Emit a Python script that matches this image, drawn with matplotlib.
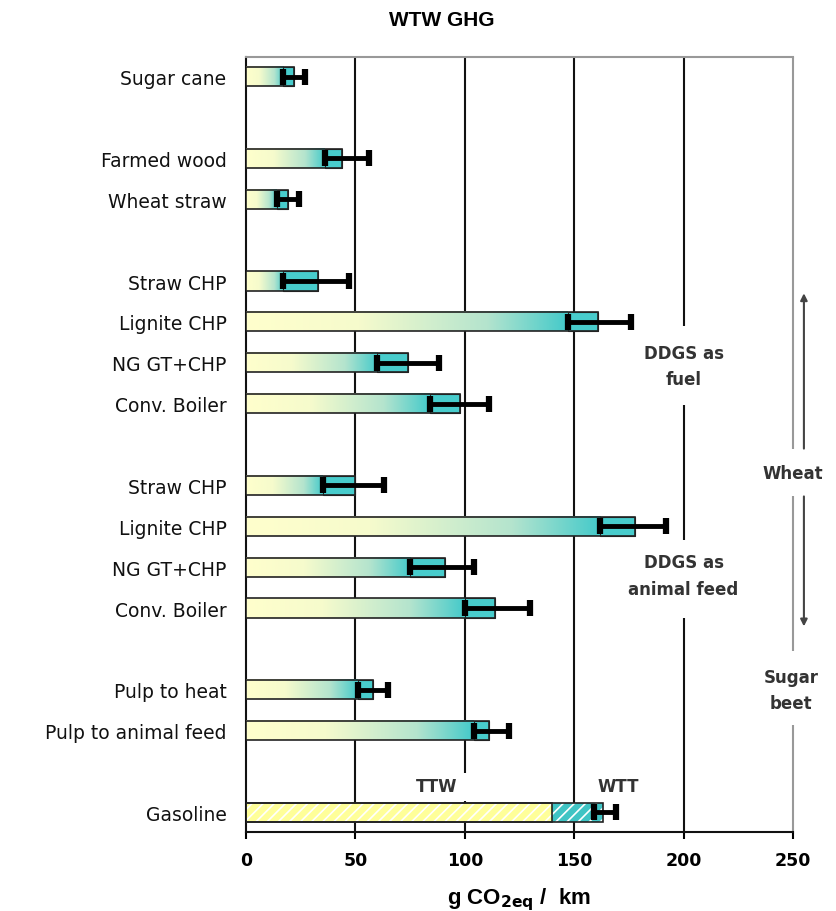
import matplotlib.pyplot as plt
import numpy as np
from matplotlib.colors import LinearSegmentedColormap

# pathways, grouped top to bottom (gasoline reference last)
labels = ['Sugar cane',
          'Farmed wood', 'Wheat straw',
          'Straw CHP', 'Lignite CHP', 'NG GT+CHP', 'Conv. Boiler',
          'Straw CHP', 'Lignite CHP', 'NG GT+CHP', 'Conv. Boiler',
          'Pulp to heat', 'Pulp to animal feed']
group_sizes = [1, 2, 4, 4, 2]
ghg_low = [17, 36, 14, 17, 147, 60, 84, 35, 162, 75, 100, 51, 104]
ghg_mid = [22, 44, 19, 33, 161, 74, 98, 50, 178, 91, 114, 58, 111]
ghg_high = [27, 56, 24, 47, 176, 88, 111, 63, 192, 104, 130, 65, 120]

gasoline_label = 'Gasoline'
gasoline_ttw = 140
gasoline_total = 163
gasoline_low = 159
gasoline_high = 169

xticks = [0, 50, 100, 150, 200, 250]

# y slots with one empty slot between groups
pos = []
slot = 0
for g in group_sizes:
    for i in range(g):
        pos.append(slot)
        slot += 1
    slot += 1
gas_pos = slot

fig = plt.figure(figsize=(8.37, 9.12), dpi=100)
ax = fig.add_axes([0.2939, 0.0866, 0.6535, 0.8498])
ax.set_xlim(0, 250)
ax.set_ylim(gas_pos + 0.48, -0.48)

h = 0.47
cyan = '#48CCCC'
cmap = LinearSegmentedColormap.from_list('yc', [(0, '#FFFFCC'), (0.35, '#F6FBCC'), (0.75, '#B4E4CE'), (1, '#44CACA')])
grad = np.linspace(0, 1, 256).reshape(1, -1)

for y, lo, mid, hi in zip(pos, ghg_low, ghg_mid, ghg_high):
    ax.imshow(grad, extent=[0, lo, y + h / 2, y - h / 2], cmap=cmap, aspect='auto', zorder=3)
    ax.barh(y, mid - lo, left=lo, height=h, color=cyan, edgecolor='#222222', lw=0.8, zorder=3)
    ax.barh(y, mid, height=h, fill=False, edgecolor='#222222', lw=1.2, zorder=4)
    ax.errorbar(mid, y, xerr=[[mid - lo], [hi - mid]], fmt='none', ecolor='black',
                elinewidth=3.5, capsize=6, capthick=4.5, zorder=5)

# gasoline: hatched TTW + WTT
plt.rcParams['hatch.linewidth'] = 1.2
ax.barh(gas_pos, gasoline_ttw, height=h, facecolor='#FFFF99', edgecolor='white', hatch='///', lw=0, zorder=3)
ax.barh(gas_pos, gasoline_total - gasoline_ttw, left=gasoline_ttw, height=h, facecolor='#3FC4C4',
        edgecolor='white', hatch='///', lw=0, zorder=3)
ax.barh(gas_pos, gasoline_ttw, height=h, fill=False, edgecolor='#222222', lw=1.2, zorder=4)
ax.barh(gas_pos, gasoline_total, height=h, fill=False, edgecolor='#222222', lw=1.2, zorder=4)
ax.errorbar(gasoline_total, gas_pos, xerr=[[gasoline_total - gasoline_low], [gasoline_high - gasoline_total]],
            fmt='none', ecolor='black', elinewidth=3.5, capsize=6, capthick=4.5, zorder=5)

# vertical grid lines, broken where the notes sit
ax.vlines(50, -0.48, gas_pos + 0.48, color='#111111', lw=1.5, zorder=1)
ax.vlines(100, -0.48, 17.04, color='#111111', lw=1.5, zorder=1)
ax.vlines(100, 17.73, gas_pos + 0.48, color='#111111', lw=1.5, zorder=1)
ax.vlines(150, -0.48, gas_pos + 0.48, color='#111111', lw=1.5, zorder=1)
ax.vlines(200, -0.48, 6.11, color='#111111', lw=1.5, zorder=1)
ax.vlines(200, 8.04, 11.34, color='#111111', lw=1.5, zorder=1)
ax.vlines(200, 13.25, gas_pos + 0.48, color='#111111', lw=1.5, zorder=1)
ax.vlines(250, -0.48, 9.10, color='#999999', lw=1.5, zorder=1, clip_on=False)
ax.vlines(250, 10.27, 14.06, color='#999999', lw=1.5, zorder=1, clip_on=False)
ax.vlines(250, 15.87, gas_pos + 0.48, color='#999999', lw=1.5, zorder=1, clip_on=False)

ax.spines['right'].set_visible(False)
ax.spines['top'].set_color('#999999')
ax.spines['top'].set_linewidth(1.5)
ax.spines['left'].set_color('#111111')
ax.spines['left'].set_linewidth(1.5)
ax.spines['bottom'].set_color('#111111')
ax.spines['bottom'].set_linewidth(1.5)

ax.set_yticks(pos + [gas_pos], labels + [gasoline_label])
ax.tick_params(axis='y', length=0, pad=14, labelsize=13.5, labelcolor='#111111')
ax.set_xticks(xticks)
ax.tick_params(axis='x', direction='out', length=5, width=1.5, pad=9, labelsize=12.5)
for t in ax.get_xticklabels():
    t.set_fontweight('bold')
ax.set_xlabel(r'g CO$_{\mathbf{2eq}}$ /  km', fontsize=16, fontweight='bold', family='Liberation Sans', labelpad=11)

# notes
note = dict(ha='center', va='center', fontsize=12, fontweight='semibold', color='#333333')
ax.text(200, 7.08, 'DDGS as\nfuel', linespacing=1.6, **note)
ax.text(200, 12.2, 'DDGS as\nanimal feed', linespacing=1.6, **note)
ax.text(250, 9.7, 'Wheat', clip_on=False, **note)
ax.text(249, 15.0, 'Sugar\nbeet', linespacing=1.6, clip_on=False, **note)
ax.text(87, 17.36, 'TTW', **note)
ax.text(170, 17.36, 'WTT', **note)

ax.annotate('', xy=(255, 5.3), xytext=(255, 9.1), annotation_clip=False,
            arrowprops=dict(arrowstyle='-|>', color='#444444', lw=1.5, mutation_scale=10, shrinkA=0, shrinkB=0))
ax.annotate('', xy=(255, 13.45), xytext=(255, 10.27), annotation_clip=False,
            arrowprops=dict(arrowstyle='-|>', color='#444444', lw=1.5, mutation_scale=10, shrinkA=0, shrinkB=0))

fig.text(0.528, 0.977, 'WTW GHG', ha='center', va='center', fontsize=15, fontweight='bold',
         family='Liberation Sans')

fig.savefig('out.png', dpi=100)
